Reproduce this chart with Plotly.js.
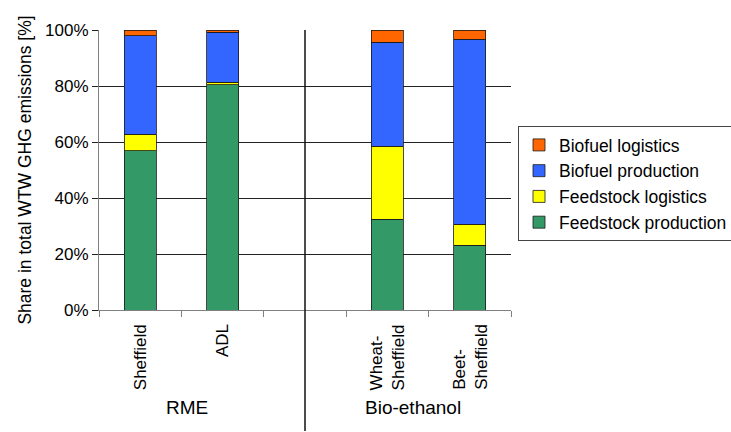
<!DOCTYPE html>
<html>
<head>
<meta charset="utf-8">
<script src="https://cdn.plot.ly/plotly-3.0.1.min.js"></script>
<style>html,body{margin:0;padding:0;background:#fff;}#chart{width:731px;height:432px;}</style>
</head>
<body>
<div id="chart"></div>
<script>
// Categories (slot index = position on axis); empty slot separates the groups
var categories = ["Sheffield", "ADL", "", "Wheat-<br>Sheffield", "Beet-<br>Sheffield"];
var groups = ["RME", "Bio-ethanol"];
var groupCenters = [0.57, 3.31];
var groupDivider = 2;

// Shares in total WTW GHG emissions [%]
var feedstockProduction = [56.8, 80.5, null, 32.5, 23.2];
var feedstockLogistics  = [6.0, 0.9, null, 26.0, 7.5];
var biofuelProduction   = [35.2, 17.8, null, 37.2, 66.0];
var biofuelLogistics    = [2.0, 0.8, null, 4.3, 3.3];

var yTicks = [0, 20, 40, 60, 80, 100];
var yTickLabels = ["0%", "20%", "40%", "60%", "80%", "100%"];

var FONT = "Liberation Sans, Arial, sans-serif";
var xpos = categories.map(function (c, i) { return i; });

function bar(name, vals, color) {
  return {
    type: "bar", name: name, x: xpos, y: vals, width: 0.39,
    marker: { color: color, line: { color: "#1a1a1a", width: 0.8 } },
    hoverinfo: "name+y"
  };
}

var data = [
  bar("Feedstock production", feedstockProduction, "#339966"),
  bar("Feedstock logistics", feedstockLogistics, "#FFFF00"),
  bar("Biofuel production", biofuelProduction, "#3366FF"),
  bar("Biofuel logistics", biofuelLogistics, "#FF6600")
];

var boundaries = [];
for (var i = 0; i <= categories.length; i++) boundaries.push(i - 0.5);

var annotations = [];
categories.forEach(function (c, i) {
  if (!c) return;
  annotations.push({
    x: i, xref: "x", y: 0, yref: "paper", yshift: -12,
    text: c, showarrow: false, textangle: -90,
    xanchor: "center", yanchor: "top", align: "left",
    font: { family: FONT, size: 17, color: "#000" }
  });
});
groups.forEach(function (g, i) {
  annotations.push({
    x: groupCenters[i], xref: "x", y: -0.347, yref: "paper",
    text: g, showarrow: false, xanchor: "center", yanchor: "middle",
    font: { family: FONT, size: 19, color: "#000" }
  });
});

var layout = {
  width: 731, height: 432,
  margin: { l: 99, r: 220, t: 29.5, b: 121.5, autoexpand: false },
  paper_bgcolor: "#fff", plot_bgcolor: "#fff",
  barmode: "stack",
  showlegend: true,
  font: { family: FONT, color: "#000" },
  xaxis: {
    range: [-0.5, categories.length - 0.5],
    tickvals: boundaries, showticklabels: false,
    ticks: "outside", ticklen: 6, tickcolor: "#808080", tickwidth: 1,
    showgrid: false, zeroline: false,
    showline: true, linecolor: "#808080", linewidth: 1,
    fixedrange: true
  },
  yaxis: {
    range: [0, 100], tickmode: "array", tickvals: yTicks, ticktext: yTickLabels,
    ticks: "outside", ticklen: 6, tickcolor: "#222",
    showgrid: true, gridcolor: "#222", gridwidth: 1,
    zeroline: false, showline: true, linecolor: "#808080", linewidth: 1,
    tickfont: { family: FONT, size: 17, color: "#000" },
    title: { text: "Share in total WTW GHG emissions [%]", font: { family: FONT, size: 17.5, color: "#000" }, standoff: 8 },
    fixedrange: true
  },
  legend: {
    x: 1.017, xanchor: "left", y: 0.657, yanchor: "top",
    traceorder: "reversed",
    bordercolor: "#444", borderwidth: 1, bgcolor: "#fff",
    font: { family: FONT, size: 17.5, color: "#000" },
    itemwidth: 30
  },
  shapes: [{
    type: "line", xref: "x", yref: "paper",
    x0: groupDivider, x1: groupDivider, y0: 1, y1: -0.432,
    line: { color: "#111", width: 1.5 }
  }],
  annotations: annotations
};

Plotly.newPlot("chart", data, layout, { displayModeBar: false, staticPlot: true });
</script>
</body>
</html>
